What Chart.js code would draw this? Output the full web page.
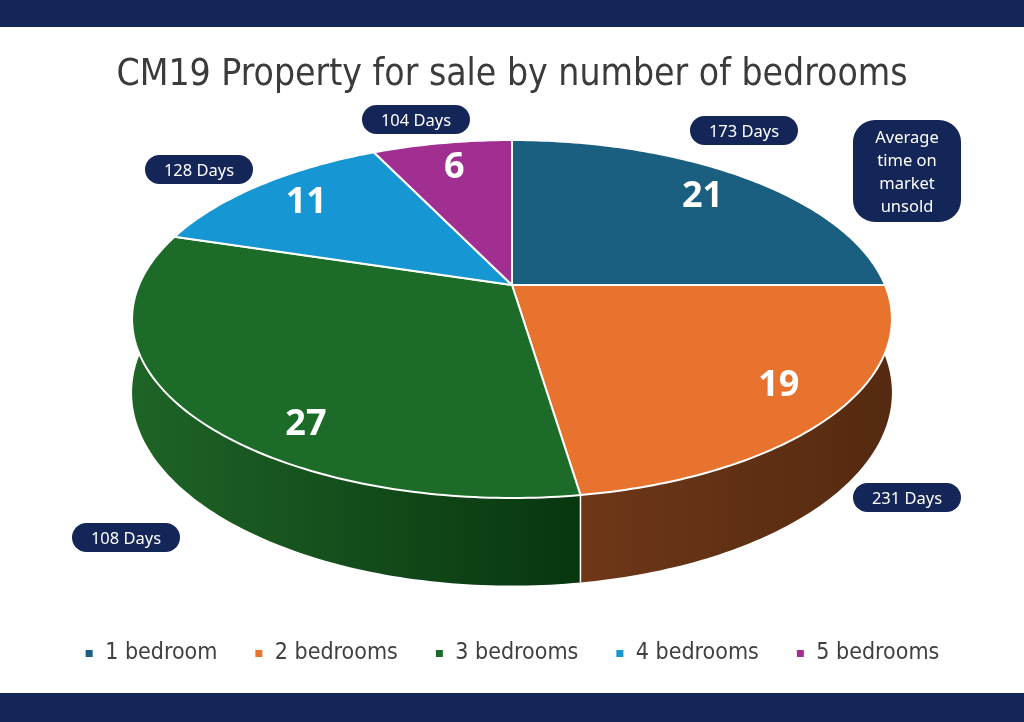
<!DOCTYPE html>
<html>
<head>
<meta charset="utf-8">
<script src="https://cdn.jsdelivr.net/npm/chart.js@4.4.1/dist/chart.umd.min.js"></script>
<style>
    html, body { margin: 0; padding: 0; background: #fff; }
    body { width: 1024px; height: 722px; position: relative; overflow: hidden; font-family: "Noto Sans", sans-serif; }
    .band { position: absolute; left: 0; width: 1024px; background: #142658; }
    #wrap { position: absolute; left: 0; top: 27px; width: 1024px; height: 666px; }
    .pill { position: absolute; background: #142658; color: #fff; border-radius: 15px; font-size: 16.5px;
            display: flex; align-items: center; justify-content: center; }
    .note { position: absolute; background: #142658; color: #fff; border-radius: 22px; font-size: 16.5px;
            line-height: 23px; text-align: center; display: flex; align-items: center; justify-content: center; }
</style>
</head>
<body>
<div class="band" style="top:0;height:27px"></div>
<div class="band" style="top:693px;height:29px"></div>
<div id="wrap"><canvas id="pieChart"></canvas></div>
<div id="pills"></div>
<div class="note" style="left:853px;top:120px;width:108px;height:102px">Average<br>time on<br>market<br>unsold</div>

<script>
/* ===================== DATA ===================== */
const categories = ["1 bedroom", "2 bedrooms", "3 bedrooms", "4 bedrooms", "5 bedrooms"];
const propertyCounts = [21, 19, 27, 11, 6];
const daysOnMarket = [173, 231, 108, 128, 104];

/* ===================== STYLE ===================== */
const topColors = ["#1a5f80", "#e8732f", "#1c6b28", "#1697d3", "#a12f92"];
const wallColors = [
    ["#12465f", "#0c3346"],
    ["#6e3718", "#552a10"],
    ["#1f6427", "#08360f"],
    ["#0f6f9c", "#0a5578"],
    ["#74206a", "#561850"],
];
// label placement per slice: radius fraction and angle shift (degrees)
const labelFrac = [0.8, 0.83, 0.85, 0.8, 0.8];
const labelShift = [0, -1.6, -15, 0, 0];
// pill boxes (left, top) in page pixels, one per category
const pillPos = [[690, 116], [853, 483], [72, 523], [145, 155], [362, 105]];

// 3D view of the pie: apex, radii, perspective and wall depth (canvas px)
const VIEW = { cx: 512, cy: 258, rx: 373, ry: 172.5, persp: 0.19, depth: 71 };
const CONDENSED = '"Liberation Sans Narrow", "DejaVu Sans Condensed", "Noto Sans", sans-serif';

function project(angle, frac, drop) {
    const s = 1 / (1 - VIEW.persp * frac * Math.sin(angle));
    return {
        x: VIEW.cx + VIEW.rx * frac * Math.cos(angle) * s,
        y: VIEW.cy + VIEW.ry * frac * Math.sin(angle) * s + drop * s,
    };
}

function edgePoints(a0, a1, drop) {
    const pts = [];
    const n = Math.max(8, Math.ceil((a1 - a0) * 60));
    for (let k = 0; k <= n; k++) {
        pts.push(project(a0 + (a1 - a0) * k / n, 1, drop));
    }
    return pts;
}

/* ===================== 3D PIE PLUGIN ===================== */
const pie3d = {
    id: "pie3d",
    beforeDatasetsDraw(chart) {
        const ctx = chart.ctx;
        const arcs = chart.getDatasetMeta(0).data;

        // outer walls (front half only)
        arcs.forEach((arc, i) => {
            const a0 = Math.max(arc.startAngle, 0);
            const a1 = Math.min(arc.endAngle, Math.PI);
            if (a1 <= a0) return;
            const top = edgePoints(a0, a1, 0);
            const bottom = edgePoints(a0, a1, VIEW.depth).reverse();
            const xs = top.map((p) => p.x);
            const grad = ctx.createLinearGradient(Math.min(...xs), 0, Math.max(...xs), 0);
            grad.addColorStop(0, wallColors[i][0]);
            grad.addColorStop(1, wallColors[i][1]);
            ctx.beginPath();
            top.concat(bottom).forEach((p, k) => (k ? ctx.lineTo(p.x, p.y) : ctx.moveTo(p.x, p.y)));
            ctx.closePath();
            ctx.fillStyle = grad;
            ctx.fill();
        });

        // white seams between walls
        ctx.strokeStyle = "#ffffff";
        ctx.lineWidth = 1.5;
        arcs.forEach((arc) => {
            const a = arc.startAngle;
            if (a <= 0.05 || a >= Math.PI - 0.05) return;
            const p = project(a, 1, 0);
            const q = project(a, 1, VIEW.depth);
            ctx.beginPath();
            ctx.moveTo(p.x, p.y);
            ctx.lineTo(q.x, q.y);
            ctx.stroke();
        });

        // top faces
        arcs.forEach((arc, i) => {
            const edge = edgePoints(arc.startAngle, arc.endAngle, 0);
            ctx.beginPath();
            ctx.moveTo(VIEW.cx, VIEW.cy);
            edge.forEach((p) => ctx.lineTo(p.x, p.y));
            ctx.closePath();
            ctx.fillStyle = topColors[i];
            ctx.fill();
            ctx.lineJoin = "round";
            ctx.lineWidth = 2;
            ctx.strokeStyle = "#ffffff";
            ctx.stroke();
        });

        // value labels
        ctx.fillStyle = "#ffffff";
        ctx.font = 'bold 36px "Open Sans", "Noto Sans", sans-serif';
        ctx.textAlign = "center";
        ctx.textBaseline = "middle";
        arcs.forEach((arc, i) => {
            const mid = (arc.startAngle + arc.endAngle) / 2 + labelShift[i] * Math.PI / 180;
            const p = project(mid, labelFrac[i], 0);
            ctx.fillText(String(propertyCounts[i]), p.x, p.y);
        });
        return false;
    },
};

/* ===================== PILLS ===================== */
const pillBox = document.getElementById("pills");
daysOnMarket.forEach((d, i) => {
    const el = document.createElement("div");
    el.className = "pill";
    el.style.left = pillPos[i][0] + "px";
    el.style.top = pillPos[i][1] + "px";
    el.style.width = "108px";
    el.style.height = "29px";
    el.textContent = d + " Days";
    pillBox.appendChild(el);
});

/* ===================== CHART ===================== */
new Chart(document.getElementById("pieChart"), {
    type: "pie",
    data: {
        labels: categories,
        datasets: [{
            data: propertyCounts,
            backgroundColor: topColors,
            borderColor: "#ffffff",
            borderWidth: 2,
        }],
    },
    options: {
        responsive: true,
        maintainAspectRatio: false,
        animation: false,
        events: [],
        layout: { padding: { bottom: 18 } },
        plugins: {
            title: {
                display: true,
                text: "CM19 Property for sale by number of bedrooms",
                color: "#3b3b3b",
                font: { family: CONDENSED, size: 37, weight: "normal" },
                padding: { top: 26, bottom: 10 },
            },
            legend: {
                display: true,
                position: "bottom",
                labels: {
                    color: "#404040",
                    font: { family: CONDENSED, size: 23 },
                    usePointStyle: true,
                    pointStyle: "rect",
                    boxWidth: 9,
                    boxHeight: 9,
                    padding: 37,
                },
            },
            tooltip: { enabled: false },
        },
    },
    plugins: [pie3d],
});
</script>
</body>
</html>
